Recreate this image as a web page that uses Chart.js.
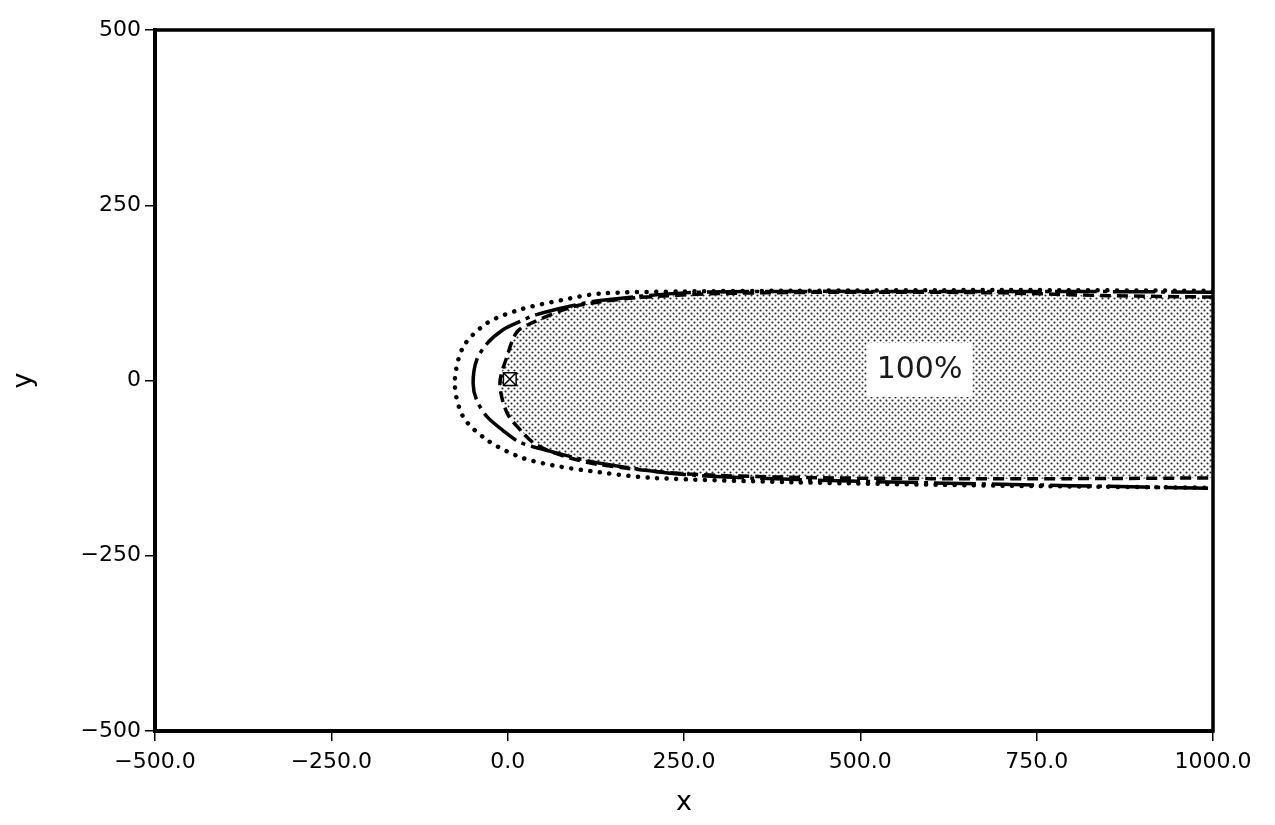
<!DOCTYPE html>
<html>
<head>
<meta charset="utf-8">
<script src="https://cdn.jsdelivr.net/npm/chart.js@4.4.1/dist/chart.umd.min.js"></script>
<style>
  html, body { margin: 0; background: #fff; }
</style>
</head>
<body>
<canvas id="myChart" width="1275" height="825"></canvas>
<script>
// axis ticks
const xTicks = [-500, -250, 0, 250, 500, 750, 1000];
const yTicks = [-500, -250, 0, 250, 500];

// inner dashed contour (filled, 100% region)
const dashedX = [1000, 850, 700, 500, 300, 180, 130, 88, 36, 13, -1, -11, -1, 22, 41, 80, 130, 250, 400, 600, 800, 1000];
const dashedY = [119, 121, 125, 126, 124, 118, 112, 104, 83, 69, 34, -4, -46, -75, -92, -108, -120, -133, -138, -140, -140, -139];

// middle dash-dot contour
const dashDotX = [1000, 800, 600, 400, 250, 131, 88, 41, 17, -7, -29, -44, -49, -44, -29, -7, 17, 64, 131, 250, 400, 600, 800, 1000];
const dashDotY = [126, 127, 127, 127, 125, 114, 106, 94, 84, 72, 53, 29, -4, -28, -52, -71, -88, -102, -118, -134, -141, -146, -150, -154];

// outer dotted contour
const dottedX = [1000, 700, 400, 250, 131, 78, 17, -29, -63, -75, -63, -29, 17, 64, 131, 206, 400, 700, 1000];
const dottedY = [128, 129, 128, 127, 124, 115, 101, 82, 48, -4, -52, -85, -109, -121, -131, -139, -145, -150, -153];

// source marker and region label
const sourceX = [3];
const sourceY = [2];
const regionLabel = '100%';
const regionLabelAt = [584, 15];

const toPoints = (xs, ys) => xs.map((x, i) => ({ x: x, y: ys[i] }));

// stipple pattern for the filled region
const tile = document.createElement('canvas');
tile.width = 6;
tile.height = 6;
const tctx = tile.getContext('2d');
tctx.fillStyle = '#222';
[[1.5, 1.5], [4.5, 4.5]].forEach(p => {
    tctx.beginPath();
    tctx.arc(p[0], p[1], 1.05, 0, Math.PI * 2);
    tctx.fill();
});

const ctx = document.getElementById('myChart').getContext('2d');
const stipple = ctx.createPattern(tile, 'repeat');

const minus = v => String(v).replace('-', '\u2212');

// frame round the plot and the region label
const framePlugin = {
    id: 'frame',
    afterDatasetsDraw(chart) {
        const a = chart.chartArea;
        const c = chart.ctx;
        const sx = chart.scales.x, sy = chart.scales.y;
        const px = sx.getPixelForValue(regionLabelAt[0]);
        const py = sy.getPixelForValue(regionLabelAt[1]);
        c.save();
        c.font = '30px "DejaVu Sans"';
        const w = c.measureText(regionLabel).width;
        c.fillStyle = '#fff';
        c.fillRect(px - w / 2 - 10, py - 27, w + 20, 54);
        c.fillStyle = '#1a1a1a';
        c.textAlign = 'center';
        c.textBaseline = 'middle';
        c.fillText(regionLabel, px, py);
        c.strokeStyle = '#000';
        c.lineWidth = 3.5;
        c.strokeRect(a.left, a.top, a.right - a.left, a.bottom - a.top);
        c.restore();
    }
};

const myChart = new Chart(ctx, {
    type: 'scatter',
    data: {
        datasets: [
            {
                label: 'source cross',
                data: toPoints(sourceX, sourceY),
                pointStyle: 'crossRot',
                pointRadius: 9,
                pointBorderWidth: 1.5,
                pointBorderColor: '#000'
            },
            {
                label: 'source box',
                data: toPoints(sourceX, sourceY),
                pointStyle: 'rect',
                pointRadius: 9,
                pointBorderWidth: 1.5,
                pointBorderColor: '#000',
                pointBackgroundColor: '#fff'
            },
            {
                label: 'dashed',
                data: toPoints(dashedX, dashedY),
                showLine: true,
                fill: 'shape',
                backgroundColor: stipple,
                borderColor: '#000',
                borderWidth: 3.5,
                borderDash: [11, 6],
                tension: 0.3,
                pointRadius: 0
            },
            {
                label: 'dash-dot',
                data: toPoints(dashDotX, dashDotY),
                showLine: true,
                fill: false,
                borderColor: '#000',
                borderWidth: 3.5,
                borderDash: [42, 6, 4, 6],
                tension: 0.3,
                pointRadius: 0
            },
            {
                label: 'dotted',
                data: toPoints(dottedX, dottedY),
                showLine: true,
                fill: false,
                borderColor: '#000',
                borderWidth: 4.5,
                borderCapStyle: 'round',
                borderDash: [0.1, 9.5],
                tension: 0.3,
                pointRadius: 0
            }
        ]
    },
    options: {
        responsive: false,
        animation: false,
        layout: { padding: { top: 30, right: 62, left: 0, bottom: 0 } },
        plugins: {
            legend: { display: false },
            tooltip: { enabled: false }
        },
        scales: {
            x: {
                type: 'linear',
                min: -500,
                max: 1000,
                afterBuildTicks: s => { s.ticks = xTicks.map(v => ({ value: v })); },
                afterFit: s => { s.height = 94; },
                grid: { drawOnChartArea: false, drawTicks: true, tickLength: 10, color: '#000', lineWidth: 1.5 },
                border: { display: true, color: '#000', width: 4 },
                ticks: {
                    color: '#000',
                    padding: 8,
                    maxRotation: 0,
                    font: { family: 'DejaVu Sans', size: 22 },
                    callback: v => minus(v.toFixed(1))
                },
                title: {
                    display: true,
                    text: 'x',
                    color: '#000',
                    font: { family: 'DejaVu Sans', size: 27 },
                    padding: { top: 4, bottom: 6 }
                }
            },
            y: {
                type: 'linear',
                min: -500,
                max: 500,
                afterBuildTicks: s => { s.ticks = yTicks.map(v => ({ value: v })); },
                afterFit: s => { s.width = 155; },
                grid: { drawOnChartArea: false, drawTicks: true, tickLength: 10, color: '#000', lineWidth: 1.5 },
                border: { display: true, color: '#000', width: 4 },
                ticks: {
                    color: '#000',
                    padding: 4,
                    font: { family: 'DejaVu Sans', size: 22 },
                    callback: v => minus(v)
                },
                title: {
                    display: true,
                    text: 'y',
                    color: '#000',
                    font: { family: 'DejaVu Sans', size: 27 },
                    padding: { top: 8, bottom: 0 }
                }
            }
        }
    },
    plugins: [framePlugin]
});
</script>
</body>
</html>
